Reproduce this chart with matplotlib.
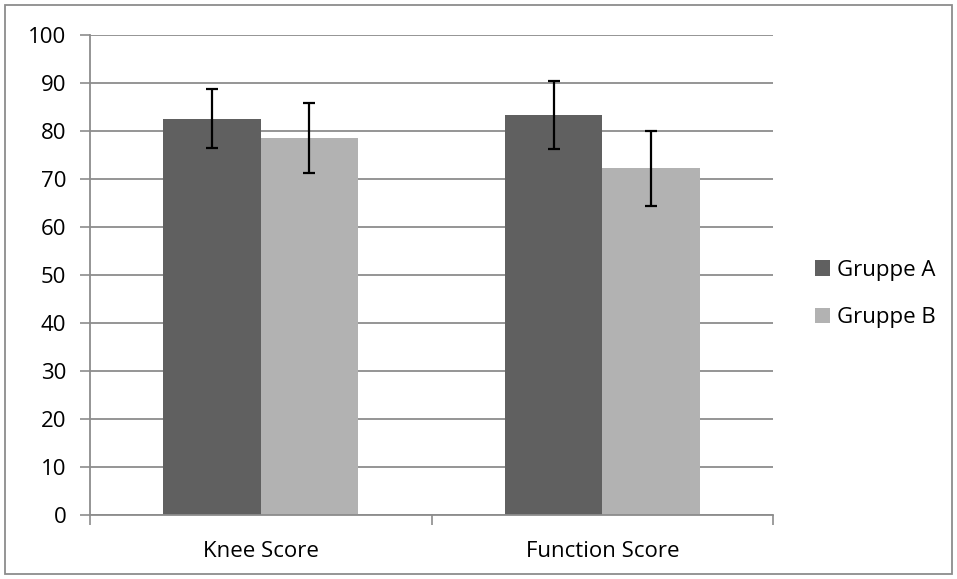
import matplotlib
matplotlib.use("Agg")
import matplotlib.pyplot as plt
import numpy as np
from matplotlib.patches import Rectangle

categories = ["Knee Score", "Function Score"]
series_names = ["Gruppe A", "Gruppe B"]
means_a = [82.6, 83.4]
means_b = [78.5, 72.2]
err_a = [6.2, 7.1]
err_b = [7.35, 7.85]
yticks = [0, 10, 20, 30, 40, 50, 60, 70, 80, 90, 100]

col_a = "#606060"
col_b = "#B2B2B2"
grid_col = "#8C8C8C"

plt.rcParams['font.family'] = ['Open Sans', 'DejaVu Sans']
FS = 16

fig = plt.figure(figsize=(9.57, 5.79), dpi=100)
ax = fig.add_axes([90/957, 1-515/579, (773-90)/957, (515-35)/579])

x = np.arange(len(categories))
w = 0.2855
ax.bar(x - w/2, means_a, w, color=col_a, label=series_names[0], zorder=2)
ax.bar(x + w/2, means_b, w, color=col_b, label=series_names[1], zorder=2)
ax.errorbar(x - w/2, means_a, yerr=err_a, fmt='none', ecolor='black',
            elinewidth=1.6, capsize=4.5, capthick=1.6, zorder=3)
ax.errorbar(x + w/2, means_b, yerr=err_b, fmt='none', ecolor='black',
            elinewidth=1.6, capsize=4.5, capthick=1.6, zorder=3)

ax.set_xlim(-0.5, len(categories) - 0.5)
ax.set_ylim(0, 100)
ax.set_yticks(yticks)
ax.set_yticklabels([str(v) for v in yticks])
ax.yaxis.grid(True, color=grid_col, linewidth=1.3, zorder=0)
ax.set_axisbelow(True)

# x ticks at category boundaries, labels at centers
ax.set_xticks(np.arange(-0.5, len(categories), 1.0))
ax.set_xticklabels([])
ax.set_xticks(x, minor=True)
ax.set_xticklabels(categories, minor=True)
ax.tick_params(axis='x', which='minor', length=0, pad=19, labelsize=FS)
ax.tick_params(axis='x', which='major', length=7, width=1.2, color=grid_col, direction='out')
ax.tick_params(axis='y', length=7, width=1.2, color=grid_col, direction='out', pad=10, labelsize=FS)

for s in ['top', 'right']:
    ax.spines[s].set_visible(False)
for s in ['left', 'bottom']:
    ax.spines[s].set_color(grid_col)
    ax.spines[s].set_linewidth(1.3)

leg = fig.legend(loc='center left', bbox_to_anchor=(815/957, 1-294/579), frameon=False,
                 fontsize=FS, handlelength=0.68, handleheight=0.68, handletextpad=0.3,
                 labelspacing=1.2, borderpad=0, borderaxespad=0)

fig.patches.append(Rectangle((5/957, 5/579), 947/957, 569/579, transform=fig.transFigure,
                             fill=False, edgecolor="#8C8C8C", linewidth=1.3))

fig.savefig("out.png", dpi=100)
